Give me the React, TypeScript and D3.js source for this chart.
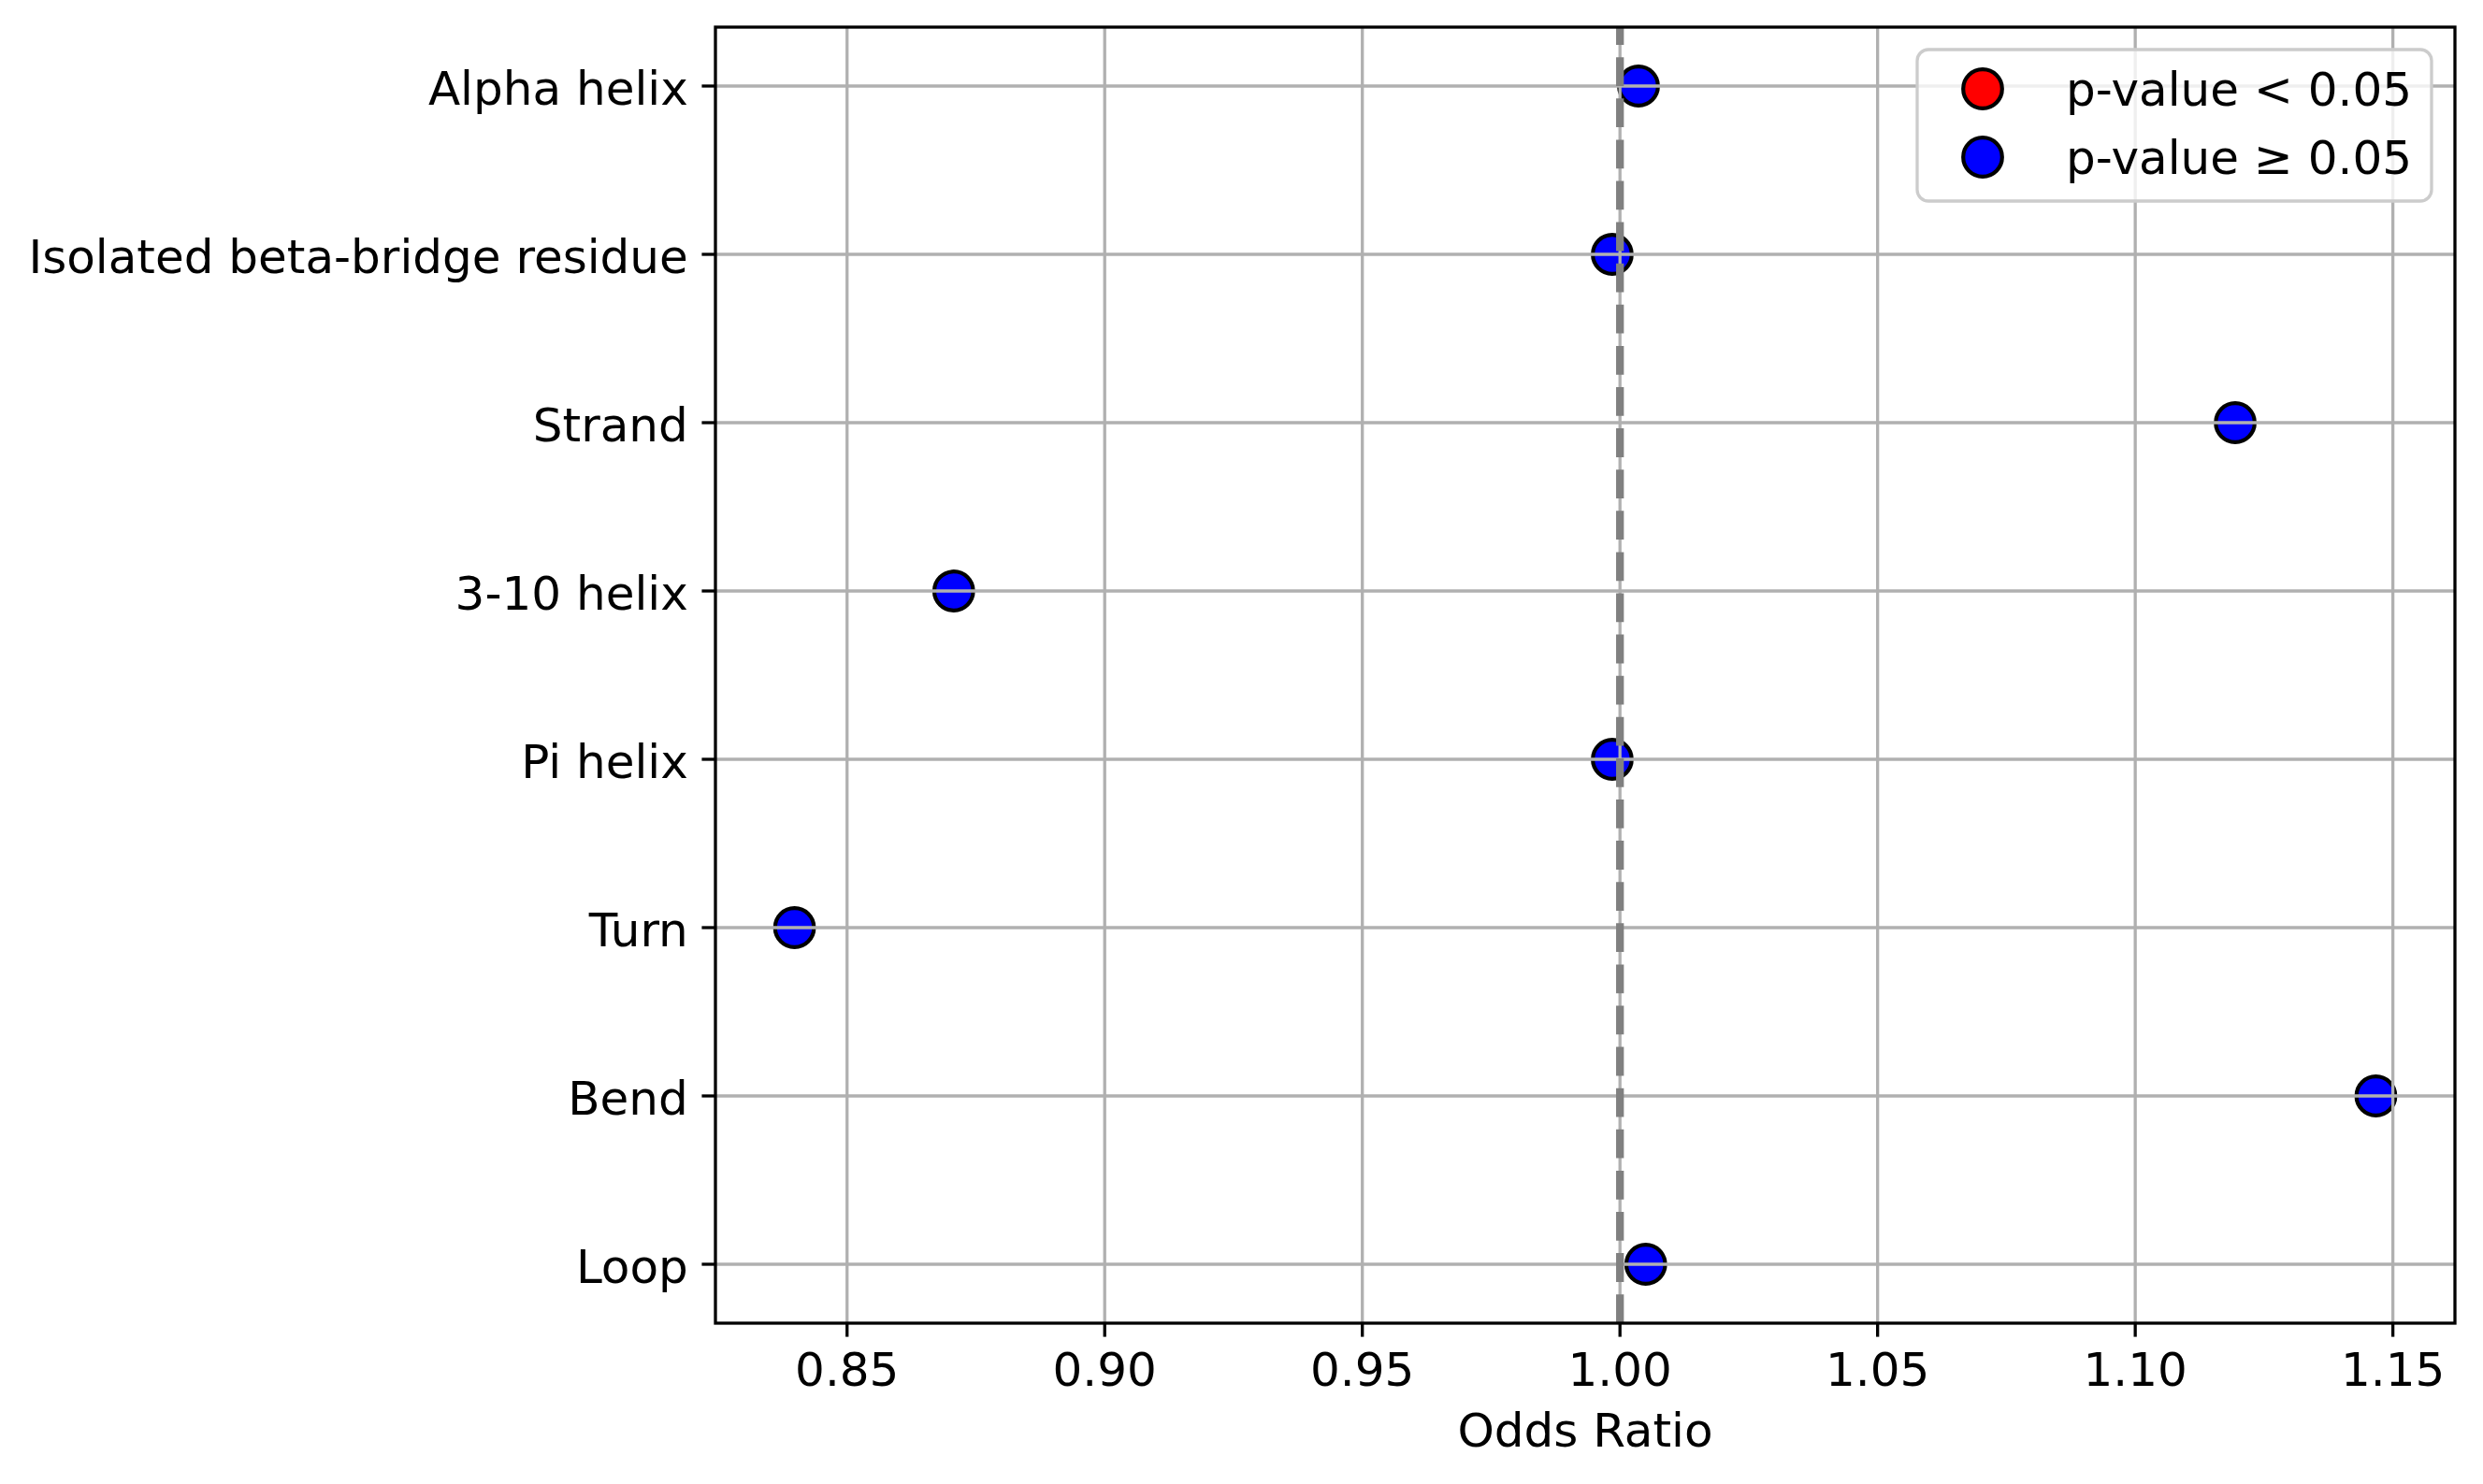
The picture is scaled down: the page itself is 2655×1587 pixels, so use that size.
import React, { useEffect, useRef } from 'react';
import * as d3 from 'd3';

// odds ratio per secondary structure class
const categories = [
  'Alpha helix',
  'Isolated beta-bridge residue',
  'Strand',
  '3-10 helix',
  'Pi helix',
  'Turn',
  'Bend',
  'Loop',
];
const oddsRatios = [1.0036, 0.9985, 1.1194, 0.8707, 0.9985, 0.8398, 1.1467, 1.005];
const significant = [false, false, false, false, false, false, false, false];
const xTicks = [0.85, 0.9, 0.95, 1.0, 1.05, 1.1, 1.15];
const legendLabels = ['p-value < 0.05', 'p-value \u2265 0.05'];
const legendColors = ['#ff0000', '#0000ff'];
const referenceLine = 1.0;

const W = 2655;
const H = 1587;
const FONT = '"DejaVu Sans", Verdana, sans-serif';

const App = () => {
  const svgRef = useRef<SVGSVGElement>(null);

  useEffect(() => {
    const svg = d3.select(svgRef.current);
    svg.selectAll('*').remove();

    const m = { left: 765, right: 2625, top: 29, bottom: 1415 };

    // matplotlib style 5% margin around data
    const [lo, hi] = d3.extent(oddsRatios) as [number, number];
    const pad = (hi - lo) * 0.05;
    const x = d3.scaleLinear().domain([lo - pad, hi + pad]).range([m.left, m.right]);
    const y = d3.scalePoint<string>().domain(categories).range([m.top, m.bottom]).padding(0.35);

    svg.append('rect').attr('width', W).attr('height', H).attr('fill', '#ffffff');

    const plot = svg.append('g');

    // points (below grid like matplotlib collections)
    plot.selectAll('circle.pt')
      .data(categories)
      .enter()
      .append('circle')
      .attr('class', 'pt')
      .attr('cx', (d, i) => x(oddsRatios[i]))
      .attr('cy', d => y(d) as number)
      .attr('r', 20.8)
      .attr('fill', (d, i) => (significant[i] ? legendColors[0] : legendColors[1]))
      .attr('stroke', '#000')
      .attr('stroke-width', 4.2);

    // grid
    plot.selectAll('line.gx')
      .data(xTicks)
      .enter()
      .append('line')
      .attr('x1', d => x(d))
      .attr('x2', d => x(d))
      .attr('y1', m.top)
      .attr('y2', m.bottom)
      .attr('stroke', '#b0b0b0')
      .attr('stroke-width', 3.3);

    plot.selectAll('line.gy')
      .data(categories)
      .enter()
      .append('line')
      .attr('x1', m.left)
      .attr('x2', m.right)
      .attr('y1', d => y(d) as number)
      .attr('y2', d => y(d) as number)
      .attr('stroke', '#b0b0b0')
      .attr('stroke-width', 3.3);

    // reference line at OR = 1
    plot.append('line')
      .attr('x1', x(referenceLine))
      .attr('x2', x(referenceLine))
      .attr('y1', m.bottom)
      .attr('y2', m.top)
      .attr('stroke', '#808080')
      .attr('stroke-width', 8.3)
      .attr('stroke-dasharray', '30.8,13.3');

    // frame
    plot.append('rect')
      .attr('x', m.left)
      .attr('y', m.top)
      .attr('width', m.right - m.left)
      .attr('height', m.bottom - m.top)
      .attr('fill', 'none')
      .attr('stroke', '#000')
      .attr('stroke-width', 3.3);

    // x ticks
    const xt = svg.append('g');
    xTicks.forEach(t => {
      xt.append('line')
        .attr('x1', x(t)).attr('x2', x(t))
        .attr('y1', m.bottom).attr('y2', m.bottom + 14.6)
        .attr('stroke', '#000').attr('stroke-width', 3.3);
      xt.append('text')
        .attr('x', x(t))
        .attr('y', 1482)
        .attr('text-anchor', 'middle')
        .attr('font-family', FONT)
        .attr('font-size', 50)
        .text(d3.format('.2f')(t));
    });

    // y ticks
    const yt = svg.append('g');
    categories.forEach(c => {
      const yy = y(c) as number;
      yt.append('line')
        .attr('x1', m.left - 14.6).attr('x2', m.left)
        .attr('y1', yy).attr('y2', yy)
        .attr('stroke', '#000').attr('stroke-width', 3.3);
      yt.append('text')
        .attr('x', m.left - 29.2)
        .attr('y', yy + 20)
        .attr('text-anchor', 'end')
        .attr('font-family', FONT)
        .attr('font-size', 50)
        .text(c);
    });

    svg.append('text')
      .attr('x', (m.left + m.right) / 2)
      .attr('y', 1547)
      .attr('text-anchor', 'middle')
      .attr('font-family', FONT)
      .attr('font-size', 50)
      .text('Odds Ratio');

    // legend
    const lg = svg.append('g');
    lg.append('rect')
      .attr('x', 2050)
      .attr('y', 53)
      .attr('width', 550)
      .attr('height', 162)
      .attr('rx', 12)
      .attr('fill', '#ffffff')
      .attr('fill-opacity', 0.8)
      .attr('stroke', '#cccccc')
      .attr('stroke-width', 3.3);

    legendLabels.forEach((label, i) => {
      const cy = 95 + i * 73;
      lg.append('circle')
        .attr('cx', 2120)
        .attr('cy', cy)
        .attr('r', 20.8)
        .attr('fill', legendColors[i])
        .attr('stroke', '#000')
        .attr('stroke-width', 4.2);
      lg.append('text')
        .attr('x', 2209)
        .attr('y', cy + 18)
        .attr('font-family', FONT)
        .attr('font-size', 50)
        .text(label);
    });
  }, []);

  return (
    <svg
      ref={svgRef}
      width={W}
      height={H}
      style={{ position: 'absolute', left: 0, top: 0 }}
    ></svg>
  );
};

export default App;
